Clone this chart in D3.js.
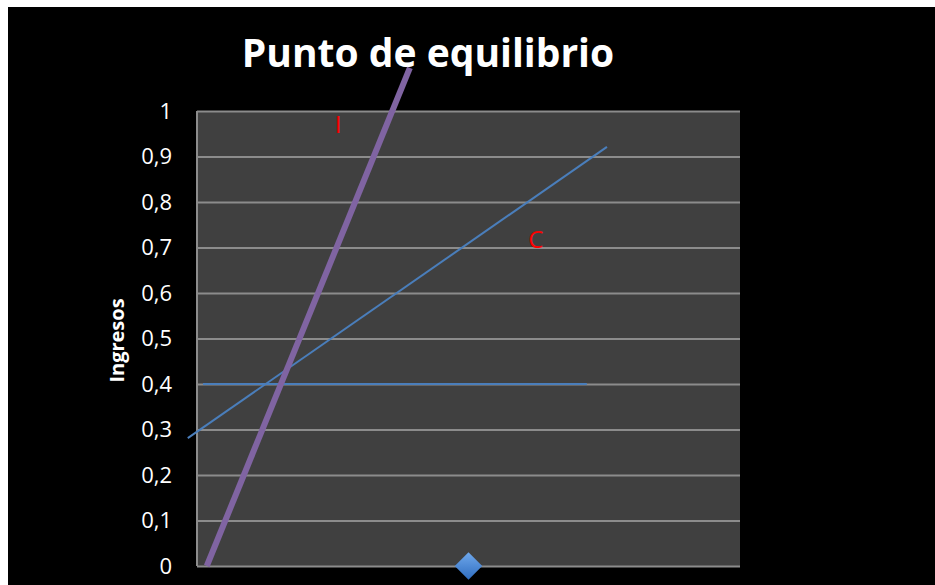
<!DOCTYPE html>
<html>
<head>
<meta charset="utf-8">
<script src="https://cdn.jsdelivr.net/npm/d3@7"></script>
<style>
  body { margin: 0; background: #ffffff; }
  text { font-family: "Open Sans", "Noto Sans", sans-serif; }
</style>
</head>
<body>
<div id="chart"></div>
<script>
// data (x in plot fractions, y in Ingresos)
let yTicks = [0, 0.1, 0.2, 0.3, 0.4, 0.5, 0.6, 0.7, 0.8, 0.9, 1];
let lineI = [{x: 0.018, y: 0}, {x: 0.392, y: 1.095}];
let lineC = [{x: -0.017, y: 0.281}, {x: 0.755, y: 0.921}];
let lineH = [{x: 0.011, y: 0.4}, {x: 0.718, y: 0.4}];
let labels = [{text: "I", x: 0.26, y: 0.965}, {text: "C", x: 0.624, y: 0.714}];
let points = [{x: 0.5, y: 0}];

let W = 935, H = 585;
let margin = {top: 111, right: 195, bottom: 19, left: 197},
    width = W - margin.left - margin.right,
    height = H - margin.top - margin.bottom;

let svg = d3.select("#chart")
    .append("svg")
        .attr("width", W)
        .attr("height", H);

// black slide background
svg.append("rect")
    .attr("x", 8).attr("y", 7)
    .attr("width", W - 8).attr("height", H - 7)
    .attr("fill", "#000000");

svg.append("text")
    .attr("x", 428)
    .attr("y", 67)
    .attr("text-anchor", "middle")
    .attr("fill", "#ffffff")
    .style("font-size", "39px")
    .style("font-weight", "bold")
    .text("Punto de equilibrio");

let g = svg.append("g")
    .attr("transform", "translate(" + margin.left + "," + margin.top + ")");

let x = d3.scaleLinear().domain([0, 1]).range([0, width]);
let y = d3.scaleLinear().domain([0, 1]).range([height, 0]);

g.append("rect")
    .attr("width", width)
    .attr("height", height)
    .attr("fill", "#404040");

// gridlines
g.append("g")
    .call(d3.axisLeft(y).tickValues(yTicks).tickSize(-width).tickFormat(""))
    .call(a => a.select(".domain").remove())
    .selectAll("line")
        .attr("stroke", "#8c8c8c")
        .attr("stroke-width", 2);

// left border
g.append("line")
    .attr("x1", 0).attr("x2", 0).attr("y1", 0).attr("y2", height)
    .attr("stroke", "#8c8c8c").attr("stroke-width", 2);

// tick labels
let fmt = d => d3.format(".1f")(d).replace(".", ",").replace(/^1,0$/, "1").replace(/^0,0$/, "0");
let yAxis = g.append("g")
    .call(d3.axisLeft(y).tickValues(yTicks).tickSize(0).tickPadding(25).tickFormat(fmt));
yAxis.select(".domain").remove();
yAxis.selectAll("text")
    .attr("fill", "#ffffff")
    .style("font-size", "22px")
    .style("font-family", "'Open Sans', sans-serif");

svg.append("text")
    .attr("transform", "translate(124," + (margin.top + height / 2 + 2) + ") rotate(-90)")
    .attr("text-anchor", "middle")
    .attr("fill", "#ffffff")
    .style("font-size", "20px")
    .style("font-weight", "bold")
    .text("Ingresos");

let line = d3.line().x(d => x(d.x)).y(d => y(d.y));

g.append("path")
    .datum(lineH)
    .attr("d", line)
    .attr("fill", "none")
    .attr("stroke", "#4a7ebb")
    .attr("stroke-width", 2);

g.append("path")
    .datum(lineC)
    .attr("d", line)
    .attr("fill", "none")
    .attr("stroke", "#4a7ebb")
    .attr("stroke-width", 2);

g.append("path")
    .datum(lineI)
    .attr("d", line)
    .attr("fill", "none")
    .attr("stroke", "#8064a2")
    .attr("stroke-width", 6);

g.selectAll(".lbl")
    .data(labels)
    .enter()
    .append("text")
        .attr("class", "lbl")
        .attr("x", d => x(d.x))
        .attr("y", d => y(d.y))
        .attr("text-anchor", "middle")
        .attr("dominant-baseline", "middle")
        .attr("fill", "#ff0000")
        .style("font-size", "24px")
        .text(d => d.text);

// diamond marker
let grad = svg.append("defs").append("linearGradient")
    .attr("id", "dg").attr("x1", 0).attr("y1", 0).attr("x2", 0).attr("y2", 1);
grad.append("stop").attr("offset", "0%").attr("stop-color", "#6fa8ec");
grad.append("stop").attr("offset", "100%").attr("stop-color", "#2f6dc0");

g.selectAll(".pt")
    .data(points)
    .enter()
    .append("path")
        .attr("class", "pt")
        .attr("d", d3.symbol().type(d3.symbolDiamond2).size(480))
        .attr("transform", d => "translate(" + x(d.x) + "," + y(d.y) + ")")
        .attr("fill", "url(#dg)");
</script>
</body>
</html>
